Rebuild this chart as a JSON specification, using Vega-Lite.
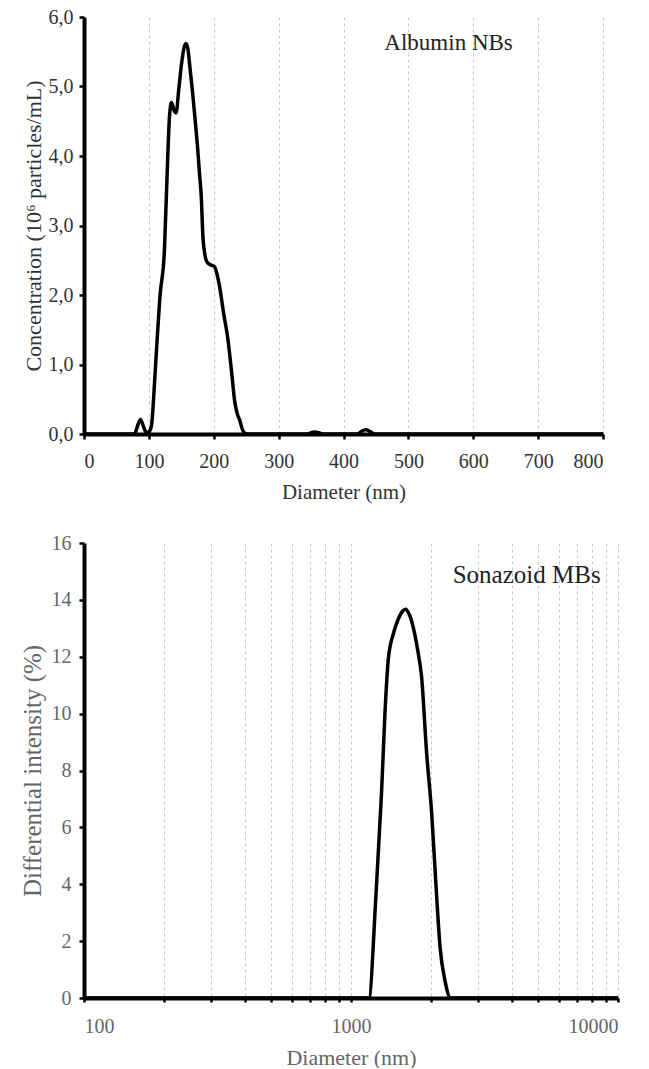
{
  "$schema": "https://vega.github.io/schema/vega-lite/v6.json",
  "padding": {"left": 20, "top": 7, "right": 20, "bottom": 0},
  "spacing": 109,
  "bounds": "flush",
  "config": {
    "view": {"stroke": null},
    "font": "Liberation Serif",
    "axis": {
      "domainColor": "black", "domainWidth": 4, "tickColor": "black", "tickWidth": 2.5, "tickSize": 5,
      "labelFont": "Liberation Serif", "labelFontSize": 20, "titleFont": "Liberation Serif", "titleFontSize": 21,
      "titleFontWeight": "normal", "labelColor": "#333", "titleColor": "#333",
      "gridColor": "#c8c8c8", "gridDash": [3, 3], "gridWidth": 1
    }
  },
  "datasets": {
    "albumin": [
      {"d": 0, "c": 0}, {"d": 78, "c": 0}, {"d": 82, "c": 0.1}, {"d": 87, "c": 0.21}, {"d": 92, "c": 0.1},
      {"d": 96, "c": 0.02}, {"d": 100, "c": 0.03}, {"d": 104, "c": 0.12}, {"d": 109, "c": 0.78}, {"d": 113, "c": 1.4},
      {"d": 117, "c": 1.97}, {"d": 124, "c": 2.65}, {"d": 129, "c": 3.97}, {"d": 132, "c": 4.6}, {"d": 135, "c": 4.77},
      {"d": 139, "c": 4.65}, {"d": 142, "c": 4.62}, {"d": 146, "c": 4.95}, {"d": 150, "c": 5.3}, {"d": 154, "c": 5.55},
      {"d": 157, "c": 5.62}, {"d": 160, "c": 5.55}, {"d": 163, "c": 5.3}, {"d": 167, "c": 4.95}, {"d": 171, "c": 4.55},
      {"d": 175, "c": 4.13}, {"d": 178, "c": 3.75}, {"d": 181, "c": 3.37}, {"d": 183, "c": 2.89}, {"d": 186, "c": 2.6},
      {"d": 190, "c": 2.47}, {"d": 196, "c": 2.43}, {"d": 201, "c": 2.41}, {"d": 205, "c": 2.3}, {"d": 209, "c": 2.12},
      {"d": 215, "c": 1.75}, {"d": 222, "c": 1.35}, {"d": 228, "c": 0.85}, {"d": 232, "c": 0.49}, {"d": 236, "c": 0.3},
      {"d": 240, "c": 0.2}, {"d": 244, "c": 0.07}, {"d": 248, "c": 0.01}, {"d": 252, "c": 0}, {"d": 345, "c": 0},
      {"d": 350, "c": 0.02}, {"d": 355, "c": 0.03}, {"d": 362, "c": 0.02}, {"d": 368, "c": 0}, {"d": 422, "c": 0},
      {"d": 428, "c": 0.04}, {"d": 435, "c": 0.06}, {"d": 442, "c": 0.03}, {"d": 448, "c": 0}, {"d": 800, "c": 0}
    ],
    "sonazoid": [
      {"d": 100, "i": 0}, {"d": 1166, "i": 0}, {"d": 1240, "i": 3.6}, {"d": 1301, "i": 7.2}, {"d": 1340, "i": 10},
      {"d": 1379, "i": 11.9}, {"d": 1440, "i": 12.8}, {"d": 1500, "i": 13.3}, {"d": 1560, "i": 13.6}, {"d": 1601, "i": 13.67},
      {"d": 1650, "i": 13.5}, {"d": 1720, "i": 12.94}, {"d": 1780, "i": 12.2}, {"d": 1838, "i": 11.3}, {"d": 1920, "i": 8.6},
      {"d": 2005, "i": 6.5}, {"d": 2080, "i": 4}, {"d": 2155, "i": 1.8}, {"d": 2250, "i": 0.6}, {"d": 2362, "i": 0},
      {"d": 10000, "i": 0}
    ],
    "labels1": [{"d": 463, "c": 5.52, "t": "Albumin NBs"}],
    "labels2": [{"d": 2404, "i": 14.6, "t": "Sonazoid MBs"}]
  },
  "vconcat": [
    {
      "width": 519, "height": 417,
      "layer": [
        {
          "data": {"name": "albumin"},
          "mark": {"type": "line", "color": "black", "strokeWidth": 3.5, "interpolate": "monotone"},
          "encoding": {
            "x": {"field": "d", "type": "quantitative", "scale": {"domain": [0, 800], "nice": false},
              "axis": {"title": "Diameter (nm)", "values": [0, 100, 200, 300, 400, 500, 600, 700, 800], "grid": true, "labelPadding": 12, "titlePadding": 10}},
            "y": {"field": "c", "type": "quantitative", "scale": {"domain": [0, 6], "nice": false},
              "axis": {"title": "Concentration  (10⁶ particles/mL)", "titleFontSize": 22, "values": [0, 1, 2, 3, 4, 5, 6], "grid": false,
                "labelExpr": "replace(format(datum.value, '.1f'), '.', ',')", "labelPadding": 6, "titlePadding": 3}}
          }
        },
        {
          "data": {"name": "labels1"},
          "mark": {"type": "text", "align": "left", "baseline": "alphabetic", "fontSize": 23, "font": "Liberation Serif", "color": "#222"},
          "encoding": {
            "x": {"field": "d", "type": "quantitative"},
            "y": {"field": "c", "type": "quantitative"},
            "text": {"field": "t"}
          }
        }
      ]
    },
    {
      "width": 534, "height": 455,
      "layer": [
        {
          "data": {"name": "sonazoid"},
          "mark": {"type": "line", "color": "black", "strokeWidth": 3.5, "interpolate": "monotone"},
          "encoding": {
            "x": {"field": "d", "type": "quantitative", "scale": {"type": "log", "domain": [100, 10000], "nice": false},
              "axis": {"title": "Diameter (nm)", "titleFontSize": 22, "grid": true, "tickSize": 4, "labelColor": "#666", "titleColor": "#666",
                "values": [100, 200, 300, 400, 500, 600, 700, 800, 900, 1000, 2000, 3000, 4000, 5000, 6000, 7000, 8000, 9000, 10000],
                "labelExpr": "indexof([100, 1000, 10000], datum.value) >= 0 ? format(datum.value, 'd') : ''",
                "labelOverlap": false, "labelPadding": 14, "titlePadding": 11}},
            "y": {"field": "i", "type": "quantitative", "scale": {"domain": [0, 16], "nice": false},
              "axis": {"title": "Differential intensity (%)", "titleFontSize": 25, "values": [0, 2, 4, 6, 8, 10, 12, 14, 16], "grid": false,
                "labelColor": "#666", "titleColor": "#666", "labelPadding": 8, "titlePadding": 6}}
          }
        },
        {
          "data": {"name": "labels2"},
          "mark": {"type": "text", "align": "left", "baseline": "alphabetic", "fontSize": 25, "font": "Liberation Serif", "color": "#222"},
          "encoding": {
            "x": {"field": "d", "type": "quantitative"},
            "y": {"field": "i", "type": "quantitative"},
            "text": {"field": "t"}
          }
        }
      ]
    }
  ]
}
